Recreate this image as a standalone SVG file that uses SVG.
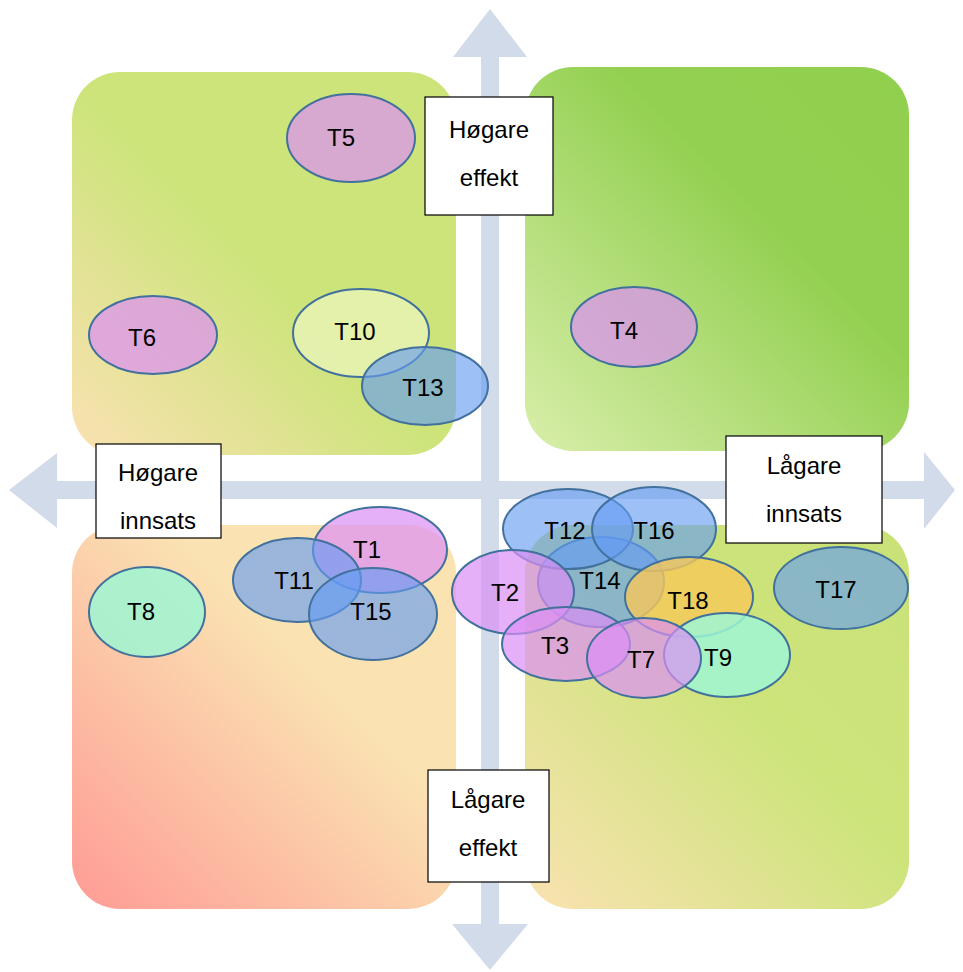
<svg xmlns="http://www.w3.org/2000/svg" width="963" height="972" viewBox="0 0 963 972">
  <defs>
    <linearGradient id="gUL" x1="0" y1="1" x2="1" y2="0">
      <stop offset="0" stop-color="#fbe1b3"/>
      <stop offset="0.48" stop-color="#cde47b"/>
      <stop offset="1" stop-color="#cce47a"/>
    </linearGradient>
    <linearGradient id="gUR" x1="0" y1="1" x2="1" y2="0">
      <stop offset="0" stop-color="#d9eeaa"/>
      <stop offset="0.62" stop-color="#93d051"/>
      <stop offset="1" stop-color="#91cf4f"/>
    </linearGradient>
    <linearGradient id="gLL" x1="0" y1="1" x2="1" y2="0">
      <stop offset="0" stop-color="#ff9b95"/>
      <stop offset="0.62" stop-color="#fae2b2"/>
      <stop offset="1" stop-color="#fae3b1"/>
    </linearGradient>
    <linearGradient id="gLR" x1="0" y1="1" x2="1" y2="0">
      <stop offset="0" stop-color="#fae2b2"/>
      <stop offset="0.55" stop-color="#cde47b"/>
      <stop offset="1" stop-color="#c9e278"/>
    </linearGradient>
  </defs>
  <style>
    .quad { stroke: none; }
    .axis { fill: #d1dbea; stroke: none; }
    .box rect { fill: #ffffff; stroke: #000000; stroke-width: 1.2; }
    .box text, .node text { font-family: "Liberation Sans", Arial, sans-serif; font-size: 24px; fill: #000000; text-anchor: middle; }
    .node ellipse { stroke: #41719c; stroke-width: 2; }
    .blue ellipse { fill: #649bf3; fill-opacity: 0.63; }
    .pink ellipse { fill: #dc8ff5; fill-opacity: 0.7; }
    .lime ellipse { fill: #e8f4b8; fill-opacity: 0.8; }
    .mint ellipse { fill: #9ef6d4; fill-opacity: 0.85; }
    .gold ellipse { fill: #f7c85a; fill-opacity: 0.8; }
  </style>

  <rect width="963" height="972" fill="#ffffff"/>

  <!-- quadrants -->
  <g id="quadrants">
    <rect class="quad" x="72" y="72" width="384" height="383" rx="48" fill="url(#gUL)"/>
    <rect class="quad" x="525" y="67" width="384" height="384" rx="48" fill="url(#gUR)"/>
    <rect class="quad" x="72" y="525" width="384" height="384" rx="48" fill="url(#gLL)"/>
    <rect class="quad" x="525" y="525" width="384" height="384" rx="48" fill="url(#gLR)"/>
  </g>

  <!-- axes -->
  <g id="connectors">
    <path class="axis" d="M481 57 L453 57 L490 9 L527 57 L499 57 L499 924 L528 924 L490 970 L452 924 L481 924 Z"/>
    <path class="axis" d="M57 481 L57 453 L9 490 L57 528 L57 499 L924 499 L924 529 L955 490 L924 452 L924 481 Z"/>
  </g>

  <!-- axis labels -->
  <g id="label-hogare-effekt" class="box">
    <rect x="425" y="97" width="128" height="118"/>
    <text x="489" y="138">Høgare</text>
    <text x="489" y="186">effekt</text>
  </g>
  <g id="label-hogare-innsats" class="box">
    <rect x="96" y="444" width="125" height="94"/>
    <text x="158" y="481">Høgare</text>
    <text x="158" y="529">innsats</text>
  </g>
  <g id="label-lagare-innsats" class="box">
    <rect x="726" y="436" width="156" height="107"/>
    <text x="804" y="474">Lågare</text>
    <text x="804" y="522">innsats</text>
  </g>
  <g id="label-lagare-effekt" class="box">
    <rect x="428" y="770" width="121" height="112"/>
    <text x="488" y="808">Lågare</text>
    <text x="488" y="856">effekt</text>
  </g>

  <!-- measures -->
  <g id="T5" class="node pink"><ellipse cx="351" cy="138" rx="64" ry="44"/><text x="341" y="146">T5</text></g>
  <g id="T6" class="node pink"><ellipse cx="153" cy="335" rx="64" ry="39"/><text x="142" y="346">T6</text></g>
  <g id="T10" class="node lime"><ellipse cx="361" cy="333" rx="68" ry="44"/><text x="355" y="340">T10</text></g>
  <g id="T13" class="node blue"><ellipse cx="425" cy="386" rx="63" ry="39"/><text x="423" y="396">T13</text></g>
  <g id="T4" class="node pink"><ellipse cx="634" cy="327" rx="63" ry="40"/><text x="624" y="339">T4</text></g>

  <g id="T8" class="node mint"><ellipse cx="147" cy="612" rx="58" ry="45"/><text x="141" y="620">T8</text></g>
  <g id="T1" class="node pink"><ellipse cx="380" cy="550" rx="67" ry="43"/><text x="367" y="558">T1</text></g>
  <g id="T11" class="node blue"><ellipse cx="297" cy="580" rx="64" ry="42"/><text x="294" y="589">T11</text></g>
  <g id="T15" class="node blue"><ellipse cx="373" cy="614" rx="64" ry="46"/><text x="371" y="620">T15</text></g>

  <g id="T17" class="node blue"><ellipse cx="841" cy="588" rx="67" ry="41"/><text x="836" y="598">T17</text></g>
  <g id="T14" class="node blue"><ellipse cx="601" cy="582" rx="63" ry="45"/><text x="600" y="589">T14</text></g>
  <g id="T12" class="node blue"><ellipse cx="568" cy="529" rx="65" ry="40"/><text x="565" y="539">T12</text></g>
  <g id="T16" class="node blue"><ellipse cx="654" cy="529" rx="62" ry="42"/><text x="654" y="539">T16</text></g>
  <g id="T2" class="node pink"><ellipse cx="513" cy="592" rx="61" ry="42"/><text x="505" y="601">T2</text></g>
  <g id="T18" class="node gold"><ellipse cx="689" cy="597" rx="64" ry="40"/><text x="688" y="609">T18</text></g>
  <g id="T3" class="node pink"><ellipse cx="566" cy="644" rx="64" ry="37"/><text x="555" y="654">T3</text></g>
  <g id="T9" class="node mint"><ellipse cx="727" cy="655" rx="63" ry="42"/><text x="718" y="666">T9</text></g>
  <g id="T7" class="node pink"><ellipse cx="644" cy="658" rx="57" ry="40"/><text x="641" y="668">T7</text></g>
</svg>
